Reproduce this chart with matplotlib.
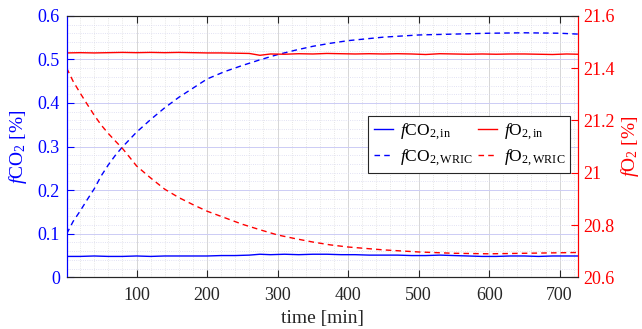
import matplotlib
matplotlib.use('Agg')
import matplotlib.pyplot as plt
from matplotlib.ticker import MultipleLocator

# 字体设置 (Times 风格)
plt.rcParams['font.family'] = ['Liberation Serif', 'DejaVu Serif']
plt.rcParams['mathtext.fontset'] = 'custom'
plt.rcParams['mathtext.rm'] = 'Liberation Serif'
plt.rcParams['mathtext.it'] = 'Liberation Serif:italic'
plt.rcParams['mathtext.bf'] = 'Liberation Serif:bold'

# 入口气体浓度 (约每 20 min 读一个点)
t_in = [1, 20, 40, 60, 80, 100, 120, 140, 160, 180, 200, 220, 240, 260, 275,
        290, 310, 330, 350, 370, 390, 410, 430, 450, 470, 490, 510, 530, 550,
        570, 590, 610, 630, 650, 670, 690, 710, 726]
co2_in = [0.048, 0.048, 0.049, 0.048, 0.048, 0.049, 0.048, 0.049, 0.049, 0.049,
          0.049, 0.050, 0.050, 0.051, 0.053, 0.052, 0.053, 0.052, 0.053, 0.053,
          0.052, 0.052, 0.051, 0.051, 0.051, 0.050, 0.050, 0.051, 0.050, 0.049,
          0.048, 0.048, 0.049, 0.049, 0.048, 0.049, 0.049, 0.049]
o2_in = [21.458, 21.459, 21.458, 21.459, 21.460, 21.459, 21.460, 21.459, 21.460,
         21.459, 21.458, 21.458, 21.457, 21.456, 21.449, 21.454, 21.453, 21.455,
         21.454, 21.456, 21.455, 21.454, 21.455, 21.454, 21.455, 21.454, 21.452,
         21.455, 21.454, 21.453, 21.454, 21.453, 21.454, 21.454, 21.453, 21.452,
         21.454, 21.453]

# 室内 (WRIC) 气体浓度
t_wric = [1, 10, 20, 30, 40, 50, 60, 70, 80, 90, 100, 120, 140, 160, 180, 200,
          225, 250, 275, 300, 325, 350, 375, 400, 450, 500, 550, 600, 650, 700, 726]
co2_wric = [0.100, 0.128, 0.152, 0.178, 0.203, 0.233, 0.258, 0.280, 0.299, 0.316,
            0.333, 0.362, 0.389, 0.413, 0.434, 0.455, 0.472, 0.486, 0.499, 0.511,
            0.521, 0.530, 0.537, 0.543, 0.551, 0.556, 0.558, 0.560, 0.561, 0.560,
            0.558]
o2_wric = [21.400, 21.350, 21.305, 21.262, 21.220, 21.182, 21.150, 21.121, 21.093,
           21.060, 21.026, 20.980, 20.937, 20.905, 20.878, 20.853, 20.828, 20.803,
           20.782, 20.762, 20.748, 20.735, 20.724, 20.716, 20.705, 20.697, 20.692,
           20.690, 20.692, 20.694, 20.695]

x_ticks = [100, 200, 300, 400, 500, 600, 700]

fig = plt.figure(figsize=(6.42, 3.29), dpi=100)
ax = fig.add_axes([0.1039, 0.157, 0.7964, 0.795])
ax2 = ax.twinx()

l1, = ax.plot(t_in, co2_in, color='b', lw=1.0)
l3, = ax.plot(t_wric, co2_wric, color='b', lw=1.0, ls=(0, (4, 3)))
l2, = ax2.plot(t_in, o2_in, color='r', lw=1.0)
l4, = ax2.plot(t_wric, o2_wric, color='r', lw=1.0, ls=(0, (4, 3)))

ax.set_xlim(1, 726)
ax.set_ylim(0, 0.6)
ax2.set_ylim(20.6, 21.6)
ax.set_xticks(x_ticks)
ax.set_yticks([0, 0.1, 0.2, 0.3, 0.4, 0.5, 0.6])
ax.set_yticklabels(['0', '0.1', '0.2', '0.3', '0.4', '0.5', '0.6'])
ax2.set_yticks([20.6, 20.8, 21.0, 21.2, 21.4, 21.6])
ax2.set_yticklabels(['20.6', '20.8', '21', '21.2', '21.4', '21.6'])
ax.xaxis.set_minor_locator(MultipleLocator(20))
ax.yaxis.set_minor_locator(MultipleLocator(0.02))

# 网格 (MATLAB 风格)
ax.xaxis.grid(True, which='major', color='#d6d6d6', lw=0.7)
ax.yaxis.grid(True, which='major', color='#ccccf5', lw=0.7)
ax.xaxis.grid(True, which='minor', color='#dedede', lw=0.6, ls=':')
ax.yaxis.grid(True, which='minor', color='#d8d8f0', lw=0.6, ls=':')
ax.set_axisbelow(True)

# 坐标轴颜色与刻度
dark = '#262626'
for a in (ax, ax2):
    a.spines['top'].set_color(dark)
    a.spines['bottom'].set_color(dark)
    a.spines['left'].set_color('b')
    a.spines['right'].set_color('r')
ax.tick_params(axis='x', which='major', direction='in', top=True, length=5,
               colors=dark, labelsize=13, pad=7)
ax.tick_params(axis='y', which='major', direction='in', length=5,
               colors='b', labelsize=13, pad=5)
ax.tick_params(which='minor', length=0)
ax2.tick_params(axis='y', which='major', direction='in', length=5,
                colors='r', labelsize=13, pad=4)
ax2.tick_params(which='minor', length=0)

ax.set_xlabel('time [min]', fontsize=14, color=dark, labelpad=4)
ax.set_ylabel('$f$CO$_2$ [%]', fontsize=14, color='b', labelpad=6)
ax2.set_ylabel('$f$O$_2$ [%]', fontsize=14, color='r', rotation=90, labelpad=3)

leg = ax2.legend([l1, l3, l2, l4],
                 ['$f$CO$_{2,\\mathrm{in}}$', '$f$CO$_{2,\\mathrm{WRIC}}$',
                  '$f$O$_{2,\\mathrm{in}}$', '$f$O$_{2,\\mathrm{WRIC}}$'],
                 ncol=2, loc='upper left', bbox_to_anchor=(0.59, 0.617),
                 fontsize=12.5, frameon=True, fancybox=False, framealpha=1,
                 edgecolor=dark, handlelength=1.1, handletextpad=0.4,
                 columnspacing=0.3, borderpad=0.3, labelspacing=0.3,
                 borderaxespad=0)
leg.get_frame().set_linewidth(0.8)

plt.savefig('out.png', dpi=100)
